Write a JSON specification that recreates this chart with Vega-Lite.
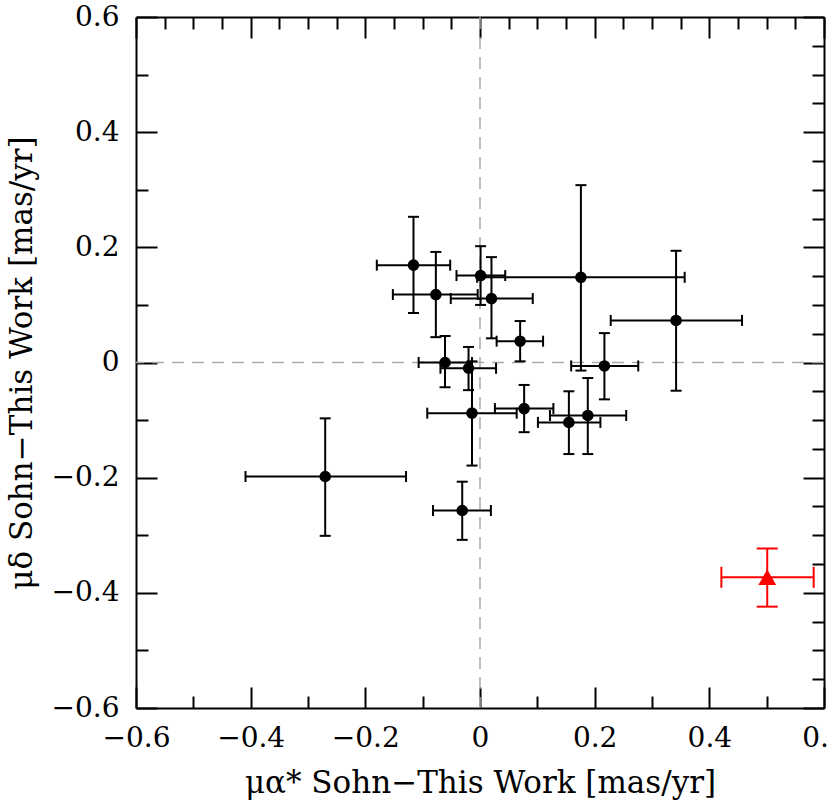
{
  "$schema": "https://vega.github.io/schema/vega-lite/v6.json",
  "width": 688,
  "height": 691,
  "autosize": {"type": "none"},
  "padding": {"left": 136, "top": 17, "right": 6, "bottom": 103},
  "background": "white",
  "config": {
    "view": {"stroke": null},
    "axis": {
      "domain": true,
      "domainColor": "black",
      "domainWidth": 2,
      "tickColor": "black",
      "tickWidth": 2,
      "grid": false,
      "labelFont": "DejaVu Serif",
      "labelFontSize": 28,
      "labelColor": "black",
      "labelFlush": false,
      "labelOverlap": false,
      "titleFont": "DejaVu Serif",
      "titleFontSize": 31,
      "titleFontWeight": "normal",
      "titleColor": "black"
    }
  },
  "datasets": {
    "pts": [
      {"x": -0.116, "xlo": -0.180, "xhi": -0.052, "y": 0.169, "ylo": 0.086, "yhi": 0.253},
      {"x": -0.077, "xlo": -0.152, "xhi": -0.004, "y": 0.118, "ylo": 0.044, "yhi": 0.192},
      {"x": 0.001, "xlo": -0.041, "xhi": 0.044, "y": 0.151, "ylo": 0.100, "yhi": 0.202},
      {"x": 0.020, "xlo": -0.051, "xhi": 0.092, "y": 0.111, "ylo": 0.042, "yhi": 0.183},
      {"x": 0.176, "xlo": -0.005, "xhi": 0.357, "y": 0.148, "ylo": -0.014, "yhi": 0.308},
      {"x": 0.070, "xlo": 0.029, "xhi": 0.110, "y": 0.037, "ylo": 0.002, "yhi": 0.072},
      {"x": -0.061, "xlo": -0.107, "xhi": -0.014, "y": 0.000, "ylo": -0.043, "yhi": 0.046},
      {"x": -0.020, "xlo": -0.069, "xhi": 0.028, "y": -0.010, "ylo": -0.048, "yhi": 0.027},
      {"x": 0.217, "xlo": 0.159, "xhi": 0.276, "y": -0.006, "ylo": -0.064, "yhi": 0.051},
      {"x": 0.342, "xlo": 0.228, "xhi": 0.457, "y": 0.073, "ylo": -0.049, "yhi": 0.194},
      {"x": -0.014, "xlo": -0.092, "xhi": 0.064, "y": -0.088, "ylo": -0.179, "yhi": 0.002},
      {"x": -0.270, "xlo": -0.409, "xhi": -0.129, "y": -0.198, "ylo": -0.301, "yhi": -0.097},
      {"x": -0.031, "xlo": -0.082, "xhi": 0.019, "y": -0.257, "ylo": -0.308, "yhi": -0.207},
      {"x": 0.077, "xlo": 0.026, "xhi": 0.128, "y": -0.080, "ylo": -0.121, "yhi": -0.039},
      {"x": 0.155, "xlo": 0.101, "xhi": 0.210, "y": -0.104, "ylo": -0.159, "yhi": -0.050},
      {"x": 0.188, "xlo": 0.122, "xhi": 0.255, "y": -0.092, "ylo": -0.159, "yhi": -0.027}
    ],
    "red": [
      {"x": 0.501, "xlo": 0.421, "xhi": 0.582, "y": -0.373, "ylo": -0.424, "yhi": -0.323}
    ]
  },
  "layer": [
    {
      "layer": [
        {
          "data": {"values": [{"v": 0}]},
          "mark": {"type": "rule", "color": "#aaaaaa", "strokeWidth": 1.5, "strokeDash": [12, 8]},
          "encoding": {
            "x": {
              "field": "v", "type": "quantitative",
              "scale": {"domain": [-0.6, 0.6], "nice": false, "zero": false},
              "axis": {
                "orient": "bottom",
                "values": [-0.6, -0.55, -0.5, -0.45, -0.4, -0.35, -0.3, -0.25, -0.2, -0.15, -0.1, -0.05, 0, 0.05, 0.1, 0.15, 0.2, 0.25, 0.3, 0.35, 0.4, 0.45, 0.5, 0.55, 0.6],
                "tickSize": {"condition": {"test": "abs(datum.value*5-round(datum.value*5))<0.001", "value": -21}, "value": -12},
                "labelExpr": "abs(datum.value*5-round(datum.value*5))<0.001 ? (abs(datum.value)<0.001 ? '0' : format(datum.value, '.1f')) : ''",
                "labelPadding": 37,
                "titlePadding": 7,
                "title": "μα* Sohn−This Work [mas/yr]"
              }
            }
          }
        },
        {
          "data": {"values": [{"v": 0}]},
          "mark": {"type": "rule", "color": "#aaaaaa", "strokeWidth": 1.5, "strokeDash": [12, 8]},
          "encoding": {
            "y": {
              "field": "v", "type": "quantitative",
              "scale": {"domain": [-0.6, 0.6], "nice": false, "zero": false},
              "axis": {
                "orient": "left",
                "values": [-0.6, -0.55, -0.5, -0.45, -0.4, -0.35, -0.3, -0.25, -0.2, -0.15, -0.1, -0.05, 0, 0.05, 0.1, 0.15, 0.2, 0.25, 0.3, 0.35, 0.4, 0.45, 0.5, 0.55, 0.6],
                "tickSize": {"condition": {"test": "abs(datum.value*5-round(datum.value*5))<0.001", "value": -21}, "value": -12},
                "labelExpr": "abs(datum.value*5-round(datum.value*5))<0.001 ? (abs(datum.value)<0.001 ? '0' : format(datum.value, '.1f')) : ''",
                "labelPadding": 38,
                "titlePadding": 13,
                "title": "μδ Sohn−This Work [mas/yr]"
              }
            }
          }
        },
        {
          "data": {"name": "pts"},
          "mark": {"type": "rule", "color": "black", "strokeWidth": 2},
          "encoding": {
            "x": {"field": "xlo", "type": "quantitative"},
            "x2": {"field": "xhi"},
            "y": {"field": "y", "type": "quantitative"}
          }
        },
        {
          "data": {"name": "pts"},
          "mark": {"type": "rule", "color": "black", "strokeWidth": 2},
          "encoding": {
            "x": {"field": "x", "type": "quantitative"},
            "y": {"field": "ylo", "type": "quantitative"},
            "y2": {"field": "yhi"}
          }
        },
        {
          "data": {"name": "pts"},
          "mark": {"type": "tick", "orient": "vertical", "color": "black", "size": 11, "thickness": 2, "opacity": 1},
          "encoding": {
            "x": {"field": "xlo", "type": "quantitative"},
            "y": {"field": "y", "type": "quantitative"}
          }
        },
        {
          "data": {"name": "pts"},
          "mark": {"type": "tick", "orient": "vertical", "color": "black", "size": 11, "thickness": 2, "opacity": 1},
          "encoding": {
            "x": {"field": "xhi", "type": "quantitative"},
            "y": {"field": "y", "type": "quantitative"}
          }
        },
        {
          "data": {"name": "pts"},
          "mark": {"type": "tick", "orient": "horizontal", "color": "black", "size": 11, "thickness": 2, "opacity": 1},
          "encoding": {
            "x": {"field": "x", "type": "quantitative"},
            "y": {"field": "ylo", "type": "quantitative"}
          }
        },
        {
          "data": {"name": "pts"},
          "mark": {"type": "tick", "orient": "horizontal", "color": "black", "size": 11, "thickness": 2, "opacity": 1},
          "encoding": {
            "x": {"field": "x", "type": "quantitative"},
            "y": {"field": "yhi", "type": "quantitative"}
          }
        },
        {
          "data": {"name": "pts"},
          "mark": {"type": "point", "shape": "circle", "filled": true, "color": "black", "opacity": 1, "size": 135},
          "encoding": {
            "x": {"field": "x", "type": "quantitative"},
            "y": {"field": "y", "type": "quantitative"}
          }
        },
        {
          "data": {"name": "red"},
          "mark": {"type": "rule", "color": "red", "strokeWidth": 2},
          "encoding": {
            "x": {"field": "xlo", "type": "quantitative"},
            "x2": {"field": "xhi"},
            "y": {"field": "y", "type": "quantitative"}
          }
        },
        {
          "data": {"name": "red"},
          "mark": {"type": "rule", "color": "red", "strokeWidth": 2},
          "encoding": {
            "x": {"field": "x", "type": "quantitative"},
            "y": {"field": "ylo", "type": "quantitative"},
            "y2": {"field": "yhi"}
          }
        },
        {
          "data": {"name": "red"},
          "mark": {"type": "tick", "orient": "vertical", "color": "red", "size": 21, "thickness": 2, "opacity": 1},
          "encoding": {
            "x": {"field": "xlo", "type": "quantitative"},
            "y": {"field": "y", "type": "quantitative"}
          }
        },
        {
          "data": {"name": "red"},
          "mark": {"type": "tick", "orient": "vertical", "color": "red", "size": 21, "thickness": 2, "opacity": 1},
          "encoding": {
            "x": {"field": "xhi", "type": "quantitative"},
            "y": {"field": "y", "type": "quantitative"}
          }
        },
        {
          "data": {"name": "red"},
          "mark": {"type": "tick", "orient": "horizontal", "color": "red", "size": 21, "thickness": 2, "opacity": 1},
          "encoding": {
            "x": {"field": "x", "type": "quantitative"},
            "y": {"field": "ylo", "type": "quantitative"}
          }
        },
        {
          "data": {"name": "red"},
          "mark": {"type": "tick", "orient": "horizontal", "color": "red", "size": 21, "thickness": 2, "opacity": 1},
          "encoding": {
            "x": {"field": "x", "type": "quantitative"},
            "y": {"field": "yhi", "type": "quantitative"}
          }
        },
        {
          "data": {"name": "red"},
          "mark": {"type": "point", "shape": "triangle-up", "filled": true, "color": "red", "opacity": 1, "size": 320},
          "encoding": {
            "x": {"field": "x", "type": "quantitative"},
            "y": {"field": "y", "type": "quantitative"}
          }
        }
      ]
    },
    {
      "data": {"values": [{"v": 0}]},
      "mark": {"type": "point", "opacity": 0},
      "encoding": {
        "x": {
          "field": "v", "type": "quantitative",
          "scale": {"domain": [-0.6, 0.6], "nice": false, "zero": false},
          "axis": {
            "orient": "top",
            "values": [-0.6, -0.55, -0.5, -0.45, -0.4, -0.35, -0.3, -0.25, -0.2, -0.15, -0.1, -0.05, 0, 0.05, 0.1, 0.15, 0.2, 0.25, 0.3, 0.35, 0.4, 0.45, 0.5, 0.55, 0.6],
            "tickSize": {"condition": {"test": "abs(datum.value*5-round(datum.value*5))<0.001", "value": -21}, "value": -12},
            "labels": false,
            "title": null
          }
        },
        "y": {
          "field": "v", "type": "quantitative",
          "scale": {"domain": [-0.6, 0.6], "nice": false, "zero": false},
          "axis": {
            "orient": "right",
            "values": [-0.6, -0.55, -0.5, -0.45, -0.4, -0.35, -0.3, -0.25, -0.2, -0.15, -0.1, -0.05, 0, 0.05, 0.1, 0.15, 0.2, 0.25, 0.3, 0.35, 0.4, 0.45, 0.5, 0.55, 0.6],
            "tickSize": {"condition": {"test": "abs(datum.value*5-round(datum.value*5))<0.001", "value": -21}, "value": -12},
            "labels": false,
            "title": null
          }
        }
      }
    }
  ],
  "resolve": {"scale": {"x": "independent", "y": "independent"}}
}
